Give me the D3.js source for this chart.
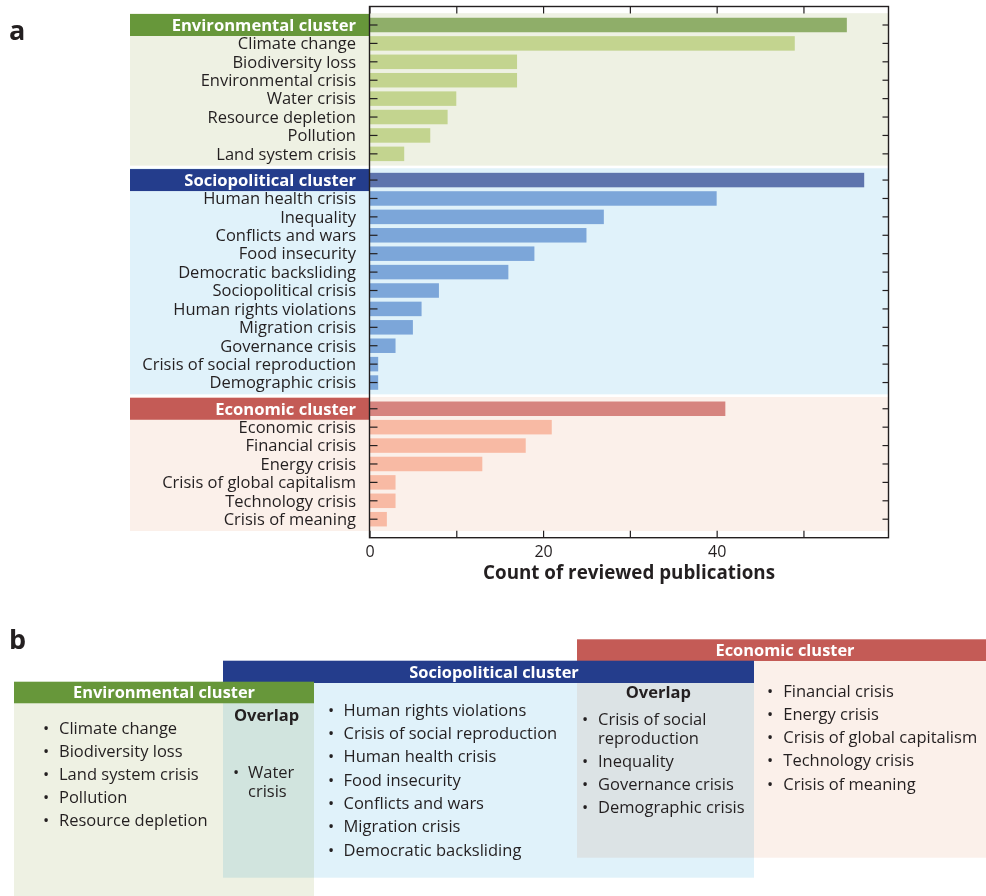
<!DOCTYPE html>
<html><head><meta charset="utf-8">
<script src="https://cdn.jsdelivr.net/npm/d3@7"></script>
<style>
body{margin:0;background:#fff;}
svg{display:block;font-family:"Open Sans",sans-serif;}
</style></head><body>
<svg id="chart" width="986" height="896"></svg>
<script>
// ---------- DATA ----------
const clusters = ["Environmental cluster", "Sociopolitical cluster", "Economic cluster"];
const clusterTotals = [55, 57, 41];

const envLabels = ["Climate change", "Biodiversity loss", "Environmental crisis", "Water crisis", "Resource depletion", "Pollution", "Land system crisis"];
const envValues = [49, 17, 17, 10, 9, 7, 4];

const socioLabels = ["Human health crisis", "Inequality", "Conflicts and wars", "Food insecurity", "Democratic backsliding", "Sociopolitical crisis", "Human rights violations", "Migration crisis", "Governance crisis", "Crisis of social reproduction", "Demographic crisis"];
const socioValues = [40, 27, 25, 19, 16, 8, 6, 5, 3, 1, 1];

const econLabels = ["Economic crisis", "Financial crisis", "Energy crisis", "Crisis of global capitalism", "Technology crisis", "Crisis of meaning"];
const econValues = [21, 18, 13, 3, 3, 2];

const xTickValues = [0, 10, 20, 30, 40, 50];
const xTickLabels = ["0", "", "20", "", "40", ""];
const xAxisTitle = "Count of reviewed publications";

// panel b lists
const envOnly = ["Climate change", "Biodiversity loss", "Land system crisis", "Pollution", "Resource depletion"];
const envSocioOverlap = ["Water crisis"];
const socioOnly = ["Human rights violations", "Crisis of social reproduction", "Human health crisis", "Food insecurity", "Conflicts and wars", "Migration crisis", "Democratic backsliding"];
const socioEconOverlap = ["Crisis of social reproduction", "Inequality", "Governance crisis", "Demographic crisis"];
const econOnly = ["Financial crisis", "Energy crisis", "Crisis of global capitalism", "Technology crisis", "Crisis of meaning"];

// ---------- STYLE ----------
const TXT = "#231f20";
const pal = [
  {box: "#67973a", head: "#8fae69", bar: "#c3d48f", bg: "#eef1e3"},
  {box: "#243d8c", head: "#5e74ad", bar: "#7ca6d9", bg: "#e0f2fa"},
  {box: "#c45b56", head: "#d6847f", bar: "#f8baa4", bg: "#fbf0ea"}
];
const FS = 16.5;
const FSB = 16.6;

const svg = d3.select("#chart");

// ---------- PANEL A ----------
const GAP = 0.424;
const groupLabels = [envLabels, socioLabels, econLabels];
const groupValues = [envValues, socioValues, econValues];
const rows = [];
let idx = 0;
groupLabels.forEach((labs, g) => {
  rows.push({g, label: clusters[g], value: clusterTotals[g], header: true, slot: idx + g * GAP});
  idx++;
  labs.forEach((l, j) => {
    rows.push({g, label: l, value: groupValues[g][j], header: false, slot: idx + g * GAP});
    idx++;
  });
});
const lastSlot = rows[rows.length - 1].slot;

const x = d3.scaleLinear().domain([0, 59.8]).range([369.5, 888.5]);
const y = d3.scaleLinear().domain([0, lastSlot]).range([25, 519.2]);
const barH = 14.5;
const plotTop = 6.5, plotBottom = 537.7;
const leftEdge = 130;

const A = svg.append("g");

// group backgrounds
const bgHalf = 11.8;
[0, 1, 2].forEach(g => {
  const gr = rows.filter(r => r.g === g);
  const t = y(gr[0].slot) - bgHalf, b = y(gr[gr.length - 1].slot) + bgHalf;
  A.append("rect").attr("x", leftEdge).attr("y", t).attr("width", x.range()[1] - leftEdge).attr("height", b - t).attr("fill", pal[g].bg);
});

// header label boxes
A.selectAll("rect.hbox").data(rows.filter(r => r.header)).join("rect")
  .attr("class", "hbox")
  .attr("x", leftEdge).attr("y", d => y(d.slot) - 11).attr("width", x(0) - leftEdge).attr("height", 22)
  .attr("fill", d => pal[d.g].box);

// bars
A.selectAll("rect.bar").data(rows).join("rect")
  .attr("class", "bar")
  .attr("x", x(0)).attr("y", d => y(d.slot) - barH / 2)
  .attr("width", d => x(d.value) - x(0)).attr("height", barH)
  .attr("fill", d => d.header ? pal[d.g].head : pal[d.g].bar);

// labels
A.selectAll("text.lab").data(rows).join("text")
  .attr("class", "lab")
  .attr("x", x(0) - 13.5).attr("y", d => y(d.slot)).attr("dy", "0.35em")
  .attr("text-anchor", "end")
  .attr("font-size", d => d.header ? FSB : FS)
  .attr("font-weight", d => d.header ? 700 : 400)
  .attr("fill", d => d.header ? "#fff" : TXT)
  .text(d => d.label);

// y ticks (inward, left and right)
A.selectAll("line.ytl").data(rows).join("line")
  .attr("x1", x(0)).attr("x2", x(0) + 8).attr("y1", d => y(d.slot)).attr("y2", d => y(d.slot))
  .attr("stroke", TXT).attr("stroke-width", 1.2);
A.selectAll("line.ytr").data(rows).join("line")
  .attr("x1", x.range()[1] - 6).attr("x2", x.range()[1]).attr("y1", d => y(d.slot)).attr("y2", d => y(d.slot))
  .attr("stroke", TXT).attr("stroke-width", 1.2);

// x axes
const axB = A.append("g").attr("transform", `translate(0,${plotBottom})`)
  .call(d3.axisBottom(x).tickValues(xTickValues).tickSizeInner(-7).tickSizeOuter(0).tickPadding(8)
    .tickFormat((d, i) => xTickLabels[i]));
const axT = A.append("g").attr("transform", `translate(0,${plotTop})`)
  .call(d3.axisTop(x).tickValues(xTickValues).tickSizeInner(-7).tickSizeOuter(0).tickFormat(""));
[axB, axT].forEach(a => {
  a.select(".domain").remove();
  a.selectAll(".tick line").attr("stroke", TXT).attr("stroke-width", 1.2);
  a.selectAll(".tick text").attr("font-size", 16).attr("fill", TXT).attr("font-family", '"Open Sans",sans-serif');
});

// frame
A.append("rect").attr("x", x(0)).attr("y", plotTop).attr("width", x.range()[1] - x(0)).attr("height", plotBottom - plotTop)
  .attr("fill", "none").attr("stroke", TXT).attr("stroke-width", 1.4);

A.append("text").attr("x", (x(0) + x.range()[1]) / 2).attr("y", 572.5).attr("dy", "0.35em")
  .attr("text-anchor", "middle").attr("font-size", 18.8).attr("font-weight", 700).attr("fill", TXT)
  .text(xAxisTitle);

svg.append("text").attr("x", 9).attr("y", 40).attr("font-size", 27).attr("font-weight", 700).attr("fill", TXT).text("a");
svg.append("text").attr("x", 9).attr("y", 649).attr("font-size", 27).attr("font-weight", 700).attr("fill", TXT).text("b");

// ---------- PANEL B ----------
const B = svg.append("g");
const boxes = [
  {g: 0, x0: 14, x1: 314, hTop: 681.7, hBot: 703.3, bot: 896},
  {g: 1, x0: 223, x1: 754, hTop: 660.7, hBot: 683, bot: 877.7},
  {g: 2, x0: 577, x1: 986, hTop: 639.3, hBot: 661, bot: 857.7}
];
// bodies (multiply to produce overlap tint)
boxes.forEach(b => {
  B.append("rect").attr("x", b.x0).attr("y", b.hBot).attr("width", b.x1 - b.x0).attr("height", b.bot - b.hBot)
    .attr("fill", pal[b.g].bg).style("mix-blend-mode", "multiply");
});
// headers: economic, sociopolitical, environmental (env on top)
[2, 1, 0].forEach(i => {
  const b = boxes[i];
  B.append("rect").attr("x", b.x0).attr("y", b.hTop).attr("width", b.x1 - b.x0).attr("height", b.hBot - b.hTop)
    .attr("fill", pal[b.g].box);
});
const headerTextX = [164, 494, 785];
boxes.forEach((b, i) => {
  B.append("text").attr("x", headerTextX[i]).attr("y", (b.hTop + b.hBot) / 2).attr("dy", "0.35em")
    .attr("text-anchor", "middle").attr("font-size", 16.4).attr("font-weight", 700).attr("fill", "#fff")
    .text(clusters[b.g]);
});

// overlap titles
B.append("text").attr("x", 266.5).attr("y", 715.7).attr("dy", "0.35em").attr("text-anchor", "middle")
  .attr("font-size", FS).attr("font-weight", 700).attr("fill", TXT).text("Overlap");
B.append("text").attr("x", 658.3).attr("y", 692.3).attr("dy", "0.35em").attr("text-anchor", "middle")
  .attr("font-size", FS).attr("font-weight", 700).attr("fill", TXT).text("Overlap");

function bulletList(items, bx, tx, y0, itemStep, lineStep, maxW) {
  let yy = y0;
  items.forEach(item => {
    B.append("text").attr("x", bx).attr("y", yy).attr("dy", "0.35em").attr("text-anchor", "middle")
      .attr("font-size", FS).attr("fill", TXT).text("•");
    const words = item.split(" ");
    let line = [];
    let t = B.append("text").attr("x", tx).attr("y", yy).attr("dy", "0.35em").attr("font-size", FS).attr("fill", TXT);
    let ly = yy;
    words.forEach(w => {
      line.push(w);
      t.text(line.join(" "));
      if (t.node().getComputedTextLength() > maxW && line.length > 1) {
        line.pop();
        t.text(line.join(" "));
        line = [w];
        ly += lineStep;
        t = B.append("text").attr("x", tx).attr("y", ly).attr("dy", "0.35em").attr("font-size", FS).attr("fill", TXT).text(w);
      }
    });
    yy = ly + itemStep;
  });
}
bulletList(envOnly, 46, 59, 728.3, 23.1, 19, 200);
bulletList(envSocioOverlap, 236, 248, 772.7, 23.1, 19, 62);
bulletList(socioOnly, 331, 343.5, 710, 23.3, 19, 240);
bulletList(socioEconOverlap, 585, 598, 719.3, 22.9, 19, 160);
bulletList(econOnly, 770, 783.3, 691, 23.2, 19, 215);
</script>
</body></html>
